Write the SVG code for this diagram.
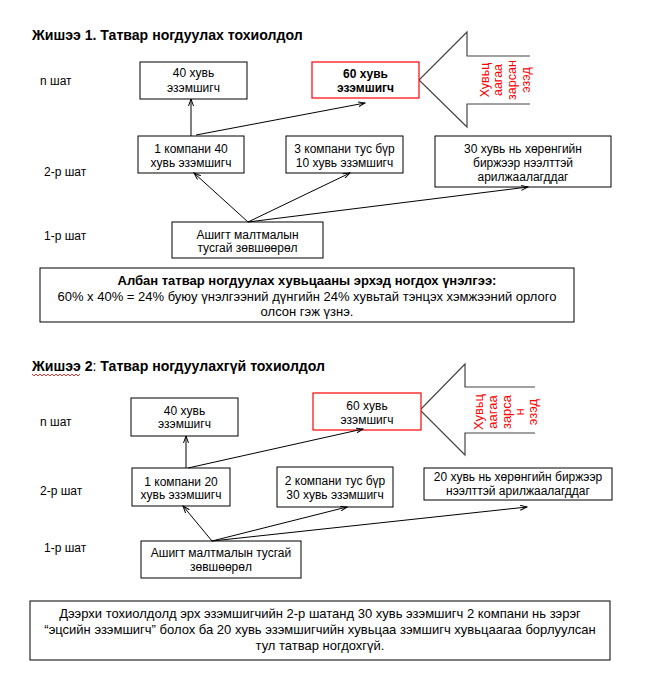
<svg xmlns="http://www.w3.org/2000/svg" width="647" height="677" viewBox="0 0 647 677">
<style>
text{font-family:"Liberation Sans",Arial,sans-serif;fill:#000}
.t{font-size:12px;text-anchor:middle}
.s{font-size:13px;text-anchor:middle}
.b{font-weight:bold}
.lbl{font-size:12px}
.title{font-size:14.1px;font-weight:bold}
.box{fill:#fff;stroke:#000;stroke-width:1}
.red{fill:#fff;stroke:#f00;stroke-width:1.2}
.c{stroke:#000;stroke-width:1;fill:none;marker-end:url(#ah)}
.big{fill:#fff;stroke:#444;stroke-width:1.2}
.rt{fill:#f00;font-size:12.5px;text-anchor:middle;dominant-baseline:central}
</style>
<defs>
<marker id="ah" markerWidth="8" markerHeight="6" refX="7" refY="3" orient="auto" markerUnits="userSpaceOnUse">
<path d="M0,0.5 L7,3 L0,5.5" fill="none" stroke="#000" stroke-width="1"/>
</marker>
</defs>
<rect width="647" height="677" fill="#fff"/>

<!-- Example 1 -->
<text class="title" x="32" y="40">Жишээ 1. Татвар ногдуулах тохиолдол</text>
<text class="lbl" x="40" y="85">n шат</text>
<text class="lbl" x="44" y="176">2-р шат</text>
<text class="lbl" x="44" y="240">1-р шат</text>

<g id="e1-arrow">
<path class="big" d="M530,56 L467,56 L467,32 L419,80 L467,127 L467,104 L530,104"/>
<text class="rt" transform="translate(485,80) rotate(-90)">Хувьц</text>
<text class="rt" transform="translate(498,80) rotate(-90)">аагаа</text>
<text class="rt" transform="translate(512,80) rotate(-90)">зарсан</text>
<text class="rt" transform="translate(526,80) rotate(-90)">эзэд</text>
</g>

<g id="e1-n40">
<rect class="box" x="140" y="62" width="107" height="37"/>
<text class="t" x="193.5" y="77">40 хувь</text>
<text class="t" x="193.5" y="92">эзэмшигч</text>
</g>
<g id="e1-n60">
<rect class="red" x="312" y="62" width="107" height="36"/>
<text class="t b" x="365.5" y="78">60 хувь</text>
<text class="t b" x="365.5" y="92">эзэмшигч</text>
</g>
<g id="e1-c1">
<rect class="box" x="138" y="136" width="106" height="37"/>
<text class="t" x="191" y="153">1 компани 40</text>
<text class="t" x="191" y="167">хувь эзэмшигч</text>
</g>
<g id="e1-c3">
<rect class="box" x="286" y="136" width="117" height="37"/>
<text class="t" x="344.5" y="153">3 компани тус бүр</text>
<text class="t" x="344.5" y="167">10 хувь эзэмшигч</text>
</g>
<g id="e1-c30">
<rect class="box" x="435" y="136" width="176" height="51"/>
<text class="t" x="523" y="153">30 хувь нь хөрөнгийн</text>
<text class="t" x="523" y="167">биржээр нээлттэй</text>
<text class="t" x="523" y="181">арилжаалагддаг</text>
</g>
<g id="e1-lic">
<rect class="box" x="172" y="222" width="151" height="36"/>
<text class="t" x="247.5" y="239">Ашигт малтмалын</text>
<text class="t" x="247.5" y="252">тусгай зөвшөөрөл</text>
</g>
<g id="e1-sum">
<rect class="box" x="40" y="268" width="534" height="54"/>
<text class="s b" x="307" y="285">Албан татвар ногдуулах хувьцааны эрхэд ногдох үнэлгээ:</text>
<text class="s" x="307" y="301">60% x 40% = 24% буюу үнэлгээний дүнгийн 24% хувьтай тэнцэх хэмжээний орлого</text>
<text class="s" x="307" y="316">олсон гэж үзнэ.</text>
</g>

<g id="e1-connectors">
<line class="c" x1="248" y1="222" x2="194" y2="173"/>
<line class="c" x1="248" y1="222" x2="350" y2="173"/>
<line class="c" x1="248" y1="222" x2="528" y2="187"/>
<line class="c" x1="191" y1="136" x2="191" y2="99"/>
<line class="c" x1="196" y1="135" x2="365" y2="103"/>
</g>

<!-- Example 2 -->
<text class="title" x="32" y="371">Жишээ 2<tspan font-weight="normal">:</tspan> Татвар ногдуулахгүй тохиолдол</text>
<path d="M32,374 l2,2 l2,-2 l2,2 l2,-2 l2,2 l2,-2 l2,2 l2,-2 l2,2 l2,-2 l2,2 l2,-2 l2,2 l2,-2 l2,2 l2,-2 l2,2 l2,-2 l2,2 l2,-2 l2,2 l2,-2 l2,2 l2,-2" fill="none" stroke="#e00" stroke-width="0.8"/>
<text class="lbl" x="40" y="426">n шат</text>
<text class="lbl" x="40" y="495">2-р шат</text>
<text class="lbl" x="44" y="552">1-р шат</text>

<g id="e2-arrow">
<path class="big" d="M535,387 L465,387 L465,364 L420,410 L465,455 L465,433 L535,433"/>
<text class="rt" style="font-size:13px" transform="translate(478,412) rotate(-90)">Хувьц</text>
<text class="rt" style="font-size:13px" transform="translate(492,412) rotate(-90)">аагаа</text>
<text class="rt" style="font-size:13px" transform="translate(506,412) rotate(-90)">зарса</text>
<text class="rt" style="font-size:13px" transform="translate(519,412) rotate(-90)">н</text>
<text class="rt" style="font-size:13px" transform="translate(532,412) rotate(-90)">эзэд</text>
</g>

<g id="e2-n40">
<rect class="box" x="131" y="398" width="107" height="38"/>
<text class="t" x="184.5" y="415">40 хувь</text>
<text class="t" x="184.5" y="428">эзэмшигч</text>
</g>
<g id="e2-n60">
<rect class="red" x="313" y="393" width="108" height="37"/>
<text class="t" x="367" y="410">60 хувь</text>
<text class="t" x="367" y="424">эзэмшигч</text>
</g>
<g id="e2-c1">
<rect class="box" x="132" y="468" width="98" height="38"/>
<text class="t" x="181" y="486">1 компани 20</text>
<text class="t" x="181" y="499">хувь эзэмшигч</text>
</g>
<g id="e2-c2">
<rect class="box" x="277" y="467" width="116" height="40"/>
<text class="t" x="335" y="485">2 компани тус бүр</text>
<text class="t" x="335" y="499">30 хувь эзэмшигч</text>
</g>
<g id="e2-c20">
<rect class="box" x="424" y="468" width="188" height="32"/>
<text class="t" x="518" y="481">20 хувь нь хөрөнгийн биржээр</text>
<text class="t" x="518" y="495">нээлттэй арилжаалагддаг</text>
</g>
<g id="e2-lic">
<rect class="box" x="141" y="541" width="160" height="37"/>
<text class="t" x="221" y="557">Ашигт малтмалын тусгай</text>
<text class="t" x="221" y="571">зөвшөөрөл</text>
</g>
<g id="e2-sum">
<rect class="box" x="30" y="601" width="580" height="59"/>
<text class="s" x="320" y="618">Дээрхи тохиолдолд эрх эзэмшигчийн 2-р шатанд 30 хувь эзэмшигч 2 компани нь зэрэг</text>
<text class="s" x="320" y="634">“эцсийн эзэмшигч” болох ба 20 хувь эзэмшигчийн хувьцаа зэмшигч хувьцаагаа борлуулсан</text>
<text class="s" x="320" y="650">тул татвар ногдохгүй.</text>
</g>

<g id="e2-connectors">
<line class="c" x1="212" y1="541" x2="183" y2="506"/>
<line class="c" x1="212" y1="541" x2="347" y2="507"/>
<line class="c" x1="212" y1="541" x2="527" y2="507"/>
<line class="c" x1="186" y1="468" x2="186" y2="436"/>
<line class="c" x1="188" y1="468" x2="363" y2="429"/>
</g>
</svg>
